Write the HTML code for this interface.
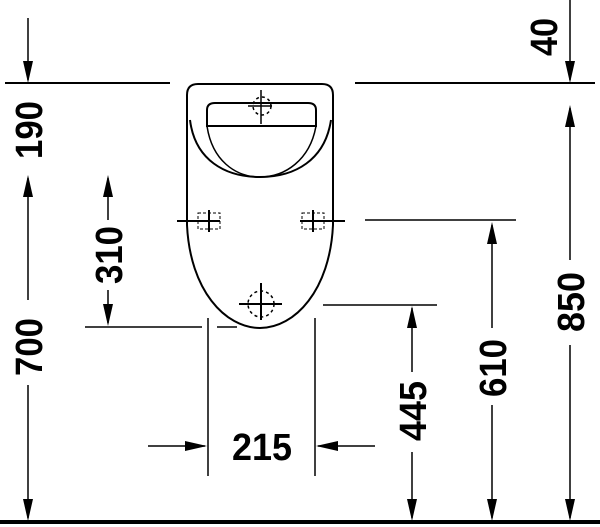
<!DOCTYPE html>
<html><head><meta charset="utf-8"><style>html,body{margin:0;padding:0;background:#fff}svg{display:block}text{font-family:"Liberation Sans Narrow","Liberation Sans",sans-serif;font-weight:bold;font-size:38px;fill:#000}</style></head>
<body>
<svg width="600" height="527" viewBox="0 0 600 527" xmlns="http://www.w3.org/2000/svg">
<g stroke="#000" fill="none" stroke-width="1.5">
<line x1="5" y1="83" x2="170" y2="83" stroke-width="2"/>
<line x1="355" y1="83" x2="595" y2="83" stroke-width="2"/>
<line x1="365" y1="220" x2="516" y2="220"/>
<line x1="323" y1="305" x2="437" y2="305"/>
<line x1="85" y1="327" x2="202" y2="327"/>
<line x1="217" y1="327" x2="237" y2="327"/>
<line x1="208" y1="318" x2="208" y2="476"/>
<line x1="315" y1="318" x2="315" y2="476"/>
<path d="M187,225 L187,95 Q187,84 198,84 L322,84 Q333,84 333,95 L333,225 C330,290 295,328 260,328 C225,328 190,290 187,225 Z" stroke-width="2"/>
<path d="M190,120 C195,160 225,177 260,177 C295,177 325,160 331,120" stroke-width="2"/>
<path d="M207,126 L207,110 Q207,103 215,103 L308,103 Q316,103 316,110 L316,126 Z" stroke-width="2"/>
<path d="M207,126 C212,160 235,177 260,177 C285,177 310,160 316,126" stroke-width="1.5"/>
<line x1="248" y1="106" x2="272" y2="106"/><line x1="261" y1="90" x2="261" y2="124"/>
<circle cx="262" cy="106" r="9" stroke-dasharray="3,3"/>
<line x1="177" y1="221" x2="220" y2="221" stroke-width="2"/><line x1="209" y1="210" x2="209" y2="232" stroke-width="2"/>
<rect x="198" y="213" width="22" height="16" stroke-dasharray="3,2" stroke-width="1"/>
<line x1="300" y1="221" x2="345" y2="221" stroke-width="2"/><line x1="313" y1="210" x2="313" y2="232" stroke-width="2"/>
<rect x="302" y="213" width="22" height="16" stroke-dasharray="3,2" stroke-width="1"/>
<line x1="239" y1="304" x2="282" y2="304" stroke-width="2"/><line x1="261" y1="283" x2="261" y2="320" stroke-width="2"/>
<circle cx="261" cy="304" r="13" stroke-dasharray="3,3"/>
<line x1="28" y1="18" x2="28" y2="80"/>
<line x1="28" y1="300" x2="28" y2="178"/>
<line x1="28" y1="385" x2="28" y2="518"/>
<line x1="108" y1="220" x2="108" y2="178"/>
<line x1="108" y1="290" x2="108" y2="323"/>
<line x1="570" y1="0" x2="570" y2="80"/>
<line x1="570" y1="260" x2="570" y2="108"/>
<line x1="570" y1="345" x2="570" y2="518"/>
<line x1="492" y1="328" x2="492" y2="225"/>
<line x1="492" y1="405" x2="492" y2="518"/>
<line x1="412" y1="372" x2="412" y2="308"/>
<line x1="412" y1="452" x2="412" y2="518"/>
<line x1="148" y1="446" x2="205" y2="446"/>
<line x1="375" y1="446" x2="318" y2="446"/>
</g>
<g fill="#000">
<polygon points="23,61 33,61 28,83"/>
<polygon points="23,197 33,197 28,175"/>
<polygon points="23,499 33,499 28,521"/>
<polygon points="103,197 113,197 108,175"/>
<polygon points="103,304 113,304 108,326"/>
<polygon points="565,61 575,61 570,83"/>
<polygon points="565,127 575,127 570,105"/>
<polygon points="565,499 575,499 570,521"/>
<polygon points="487,244 497,244 492,222"/>
<polygon points="487,499 497,499 492,521"/>
<polygon points="407,328 417,328 412,306"/>
<polygon points="407,499 417,499 412,521"/>
<polygon points="185,441 185,451 207,446"/>
<polygon points="338,441 338,451 316,446"/>
</g>
<line x1="0" y1="522" x2="600" y2="522" stroke="#000" stroke-width="4"/>
<g>
<text transform="translate(42,130) rotate(-90)" text-anchor="middle" textLength="58" lengthAdjust="spacingAndGlyphs">190</text>
<text transform="translate(42,347) rotate(-90)" text-anchor="middle" textLength="58" lengthAdjust="spacingAndGlyphs">700</text>
<text transform="translate(122,255) rotate(-90)" text-anchor="middle" textLength="58" lengthAdjust="spacingAndGlyphs">310</text>
<text transform="translate(557,37) rotate(-90)" text-anchor="middle" textLength="38" lengthAdjust="spacingAndGlyphs">40</text>
<text transform="translate(584,302) rotate(-90)" text-anchor="middle" textLength="60" lengthAdjust="spacingAndGlyphs">850</text>
<text transform="translate(506,368) rotate(-90)" text-anchor="middle" textLength="58" lengthAdjust="spacingAndGlyphs">610</text>
<text transform="translate(426,411) rotate(-90)" text-anchor="middle" textLength="60" lengthAdjust="spacingAndGlyphs">445</text>
<text x="262" y="460" text-anchor="middle" textLength="60" lengthAdjust="spacingAndGlyphs">215</text>
</g>
</svg>
</body></html>
